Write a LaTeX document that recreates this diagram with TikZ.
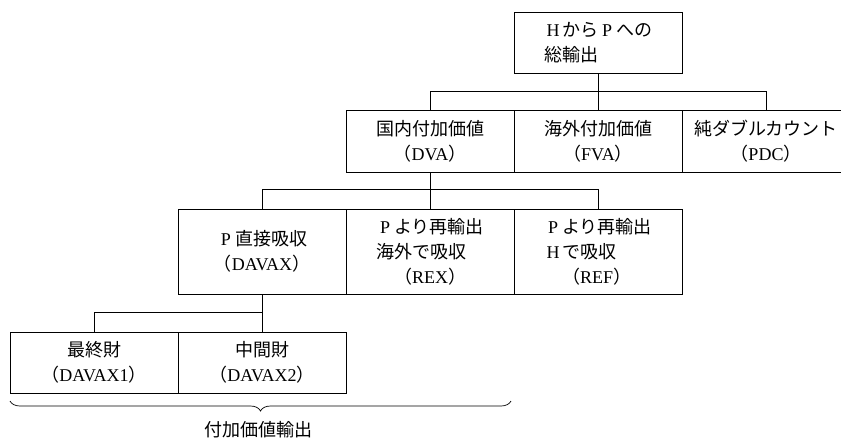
\documentclass[tikz,border=0pt]{standalone}
\usepackage{fontspec}
\setmainfont{Liberation Serif}
\newfontfamily\cjk{Noto Sans CJK JP}
\usetikzlibrary{decorations.pathreplacing}
\newcommand{\jp}[1]{{\cjk #1}}
\newcommand{\fw}[1]{\makebox[18pt][c]{#1}}
\begin{document}
\begin{tikzpicture}[x=1pt,y=-1pt,
  box/.style={draw=black, line width=0.9pt, minimum width=168pt, minimum height=#1,
    inner sep=0pt, align=center, font=\fontsize{18}{25}\selectfont},
  lbox/.style={box=#1, align=left},
  conn/.style={draw=black, line width=0.7pt},
  bracestyle/.style={draw=black, line width=0.7pt, decorate,
    decoration={brace, mirror, amplitude=10pt}},
  lab/.style={font=\fontsize{18}{25}\selectfont}]
\useasboundingbox (0,0) rectangle (841,440);
\clip (0,0) rectangle (841,440);
% boxes
\node[lbox=61pt] (top) at (598,42.5) {\fw{H}\jp{から}\fw{P}\jp{への}\\\jp{総輸出}};
\node[box=62pt] (dva) at (430,141) {\jp{国内付加価値}\\\jp{（}DVA\jp{）}};
\node[box=62pt] (fva) at (598,141) {\jp{海外付加価値}\\\jp{（}FVA\jp{）}};
\node[box=62pt] (pdc) at (766,141) {\jp{純ダブルカウント}\\\jp{（}PDC\jp{）}};
\node[box=85pt] (davax) at (262,251.5) {\fw{P}\jp{直接吸収}\\\jp{（}DAVAX\jp{）}};
\node[lbox=85pt] (rex) at (430,251.5) {\fw{P}\jp{より再輸出}\\\jp{海外で吸収}\\\jp{　（}REX\jp{）}};
\node[lbox=85pt] (ref) at (598,251.5) {\fw{P}\jp{より再輸出}\\\fw{H}\jp{で吸収}\\\jp{　（}REF\jp{）}};
\node[box=61pt] (fin) at (94,362.5) {\jp{最終財}\\\jp{（}DAVAX1\jp{）}};
\node[box=61pt] (mid) at (262,362.5) {\jp{中間財}\\\jp{（}DAVAX2\jp{）}};
% connectors
\draw[conn] (top) -- (fva);
\draw[conn] (dva.north) -- ++(0,-18) -| (pdc.north);
\draw[conn] (dva) -- (rex);
\draw[conn] (davax.north) -- ++(0,-19) -| (ref.north);
\draw[conn] (davax) -- (mid);
\draw[conn] (fin.north) -- ++(0,-19) -| (mid.north);
% brace
\coordinate (bl) at (10,401);
\coordinate (br) at (511,401);
\draw[bracestyle] (bl) -- (br);
\node[lab] (va) at (258,430) {\jp{付加価値輸出}};
\end{tikzpicture}
\end{document}
